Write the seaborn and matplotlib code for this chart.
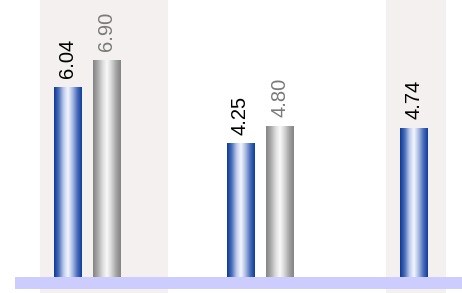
import matplotlib.pyplot as plt
import numpy as np
import pandas as pd
import seaborn as sns
from matplotlib.colors import LinearSegmentedColormap
from matplotlib.patches import Rectangle

# Data
groups = ["G1", "G2", "G3"]
series = ["Series 1", "Series 2"]
series1_values = [6.04, 4.25, 4.74]
series2_values = [6.90, 4.80, np.nan]

# Layout (pixel-like x units, 1 unit of y = one value step)
group_centers = [87, 260, 413.5]
slot = 39
bar_width_px = 27.5
bands = [(40, 168), (386, 446)]
floor_x = (15, 462)
floor_depth = 0.37

rows = []
for gi, g in enumerate(groups):
    vals = [series1_values[gi], series2_values[gi]]
    present = [(s, v) for s, v in zip(series, vals) if not np.isnan(v)]
    n = len(present)
    for k, (s, v) in enumerate(present):
        rows.append({"group": g, "series": s, "value": v,
                     "pos": group_centers[gi] + (k - (n - 1) / 2) * slot})
df = pd.DataFrame(rows)

sns.set_theme(style="white")
plt.rcParams['font.family'] = ['Liberation Sans', 'DejaVu Sans']

fig = plt.figure(figsize=(4.62, 2.93), dpi=100)
ax = fig.add_axes([0, 0, 1, 1])

palette = {"Series 1": "#0b3a99", "Series 2": "#858585"}
min_gap = np.min(np.diff(np.sort(df["pos"].unique())))
sns.barplot(data=df, x="pos", y="value", hue="series", palette=palette,
            native_scale=True, dodge=False, errorbar=None, legend=False,
            width=bar_width_px / min_gap, saturation=1, ax=ax, zorder=2,
            linewidth=0)

cmaps = {
    "Series 1": LinearSegmentedColormap.from_list(
        "blue", ["#0a3896", "#4a6cb8", "#b9c8ea", "#f4f7ff", "#a9bbe3", "#4c6dba", "#0b3d9e"]),
    "Series 2": LinearSegmentedColormap.from_list(
        "gray", ["#838383", "#a8a8a8", "#d9d9d9", "#fafafa", "#d4d4d4", "#a3a3a3", "#838383"]),
}
label_colors = {"Series 1": "#000000", "Series 2": "#7a7a7a"}

grad = np.linspace(0, 1, 256).reshape(1, -1)
bars = [p for c in ax.containers for p in c]
for bar in bars:
    x0 = bar.get_x()
    w = bar.get_width()
    h = bar.get_height()
    xc = x0 + w / 2
    s = df.loc[(df["pos"] - xc).abs().idxmin(), "series"]
    im = ax.imshow(grad, cmap=cmaps[s], extent=(x0, x0 + w, 0, h),
                   aspect="auto", zorder=3, interpolation="bicubic")
    im.set_clip_path(bar)
    ax.annotate(f"{h:.2f}", (xc, h), xytext=(0, 6), textcoords="offset points",
                rotation=90, ha="center", va="bottom", fontsize=14.5,
                color=label_colors[s], zorder=4)

for b0, b1 in bands:
    ax.axvspan(b0, b1, color="#f4f0ef", zorder=0, lw=0)
ax.add_patch(Rectangle((floor_x[0], -floor_depth), floor_x[1] - floor_x[0],
                       floor_depth, color="#ccccff", lw=0, zorder=1))

ax.set_xlim(0, 462)
ax.set_ylim(-16 / 31.5, 277 / 31.5)
ax.set_axis_off()

fig.savefig("out.png", dpi=100)
